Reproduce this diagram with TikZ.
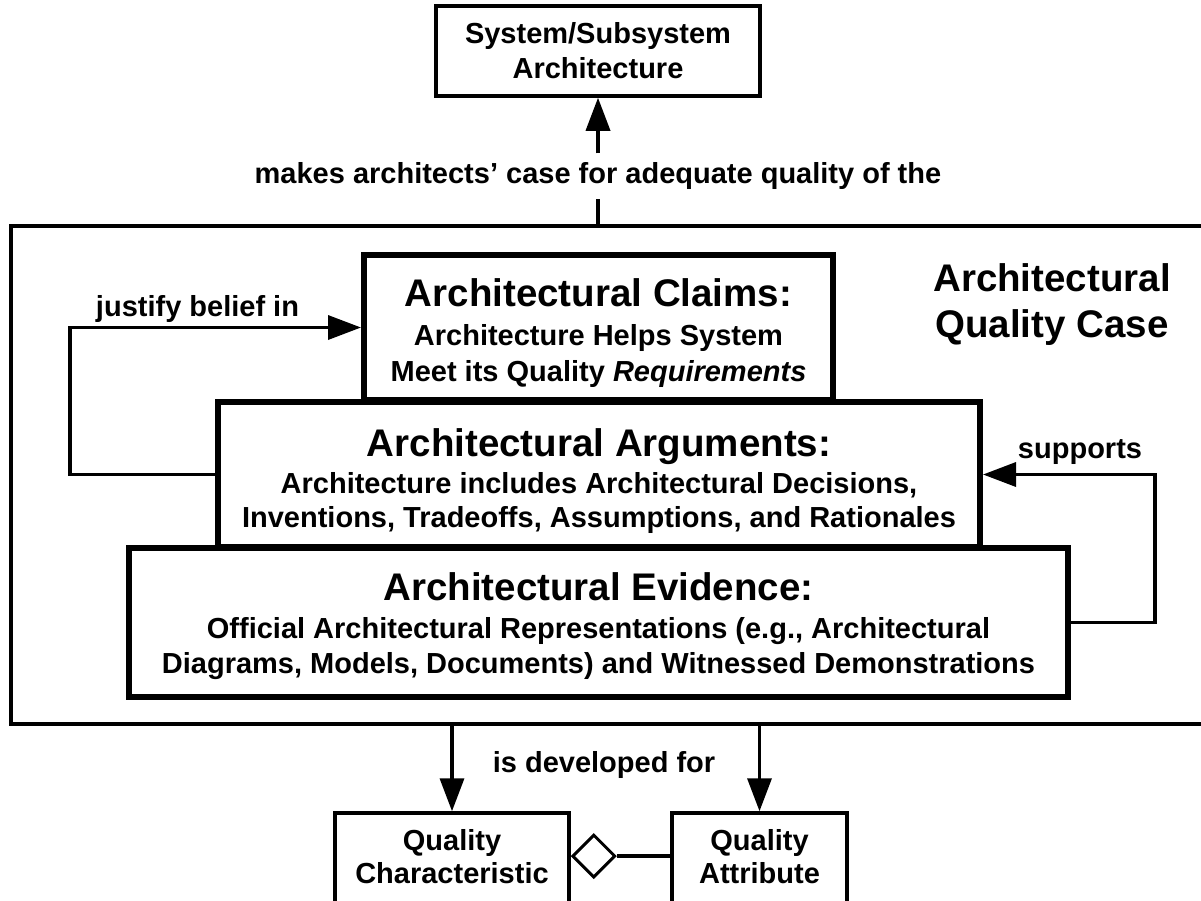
\documentclass[tikz,border=0pt]{standalone}
\usepackage{fontspec}
\setmainfont{Liberation Sans}
\usetikzlibrary{arrows.meta,shapes.geometric}

\begin{document}
\begin{tikzpicture}[x=1pt,y=-1pt,
  every node/.style={font=\bfseries},
  txt/.style={anchor=base,inner sep=0pt,font=\bfseries\fontsize{29}{35}\selectfont},
  ttl/.style={anchor=base,inner sep=0pt,font=\bfseries\fontsize{38.5}{44}\selectfont},
  plainbox/.style={draw,line width=3.5pt,inner sep=0pt},
  layerbox/.style={draw,line width=6pt,inner sep=0pt,fill=white},
  conn/.style={line width=3.5pt},
  arr/.style={conn,-{Triangle[length=33pt,width=24pt]}}
]
\useasboundingbox (0,0) rectangle (1201,900);
\clip (0,0) rectangle (1201,900);

% system / subsystem architecture
\node[plainbox,minimum width=324,minimum height=90] (sys) at (598,51) {};
\node[txt] (sysA) at (598,43) {System/Subsystem};
\node[txt] (sysB) at (598,78) {Architecture};

% the quality case container
\node[plainbox,line width=4pt,minimum width=1199,minimum height=498] (qcase) at (610.5,475) {};
\node[ttl] (qcA) at (1052,291) {Architectural};
\node[ttl] (qcB) at (1052,337) {Quality Case};

% label on the link to the architecture
\node[font=\bfseries\fontsize{29}{35}\selectfont,text height=21.75pt,text depth=6pt,inner sep=8.5pt] (mk) at (598,176) {makes architects’ case for adequate quality of the};
\draw[conn] (sys.south |- qcase.north) -- (mk.south);
\draw[arr] (mk.north) -- (sys.south);

% the three layers
\node[layerbox,minimum width=469,minimum height=145] (claims) at (598.5,327.5) {};
\node[layerbox,minimum width=762,minimum height=145] (args) at (599,474.5) {};
\node[layerbox,minimum width=939,minimum height=149] (evid) at (598.5,622.5) {};

\node[ttl] (clT) at (598.5,306) {Architectural Claims:};
\node[txt] (clA) at (598.5,345) {Architecture Helps System};
\node[txt] (clB) at (598.5,381) {Meet its Quality \textit{Requirements}};

\node[ttl] (arT) at (599,456) {Architectural Arguments:};
\node[txt] (arA) at (599,493) {Architecture includes Architectural Decisions,};
\node[txt] (arB) at (599,527) {Inventions, Tradeoffs, Assumptions, and Rationales};

\node[ttl] (evT) at (598.5,600) {Architectural Evidence:};
\node[txt] (evA) at (598.5,638) {Official Architectural Representations (e.g., Architectural};
\node[txt] (evB) at (598.5,673) {Diagrams, Models, Documents) and Witnessed Demonstrations};

% justify belief in
\coordinate (jl) at (70,0);
\draw[arr] (args.west) -- (args.west -| jl) |- (claims.west);
\node[txt] (just) at (197.5,316) {justify belief in};

% supports
\coordinate (sr) at (1155,0);
\draw[arr] (evid.east) -- (evid.east -| sr) |- (args.east);
\node[txt] (sup) at (1080,458) {supports};

% quality characteristic / attribute
\node[plainbox,minimum width=234,minimum height=92] (qc) at (452,859) {};
\node[plainbox,minimum width=175,minimum height=92] (qa) at (759.5,859) {};
\node[txt] (qcA1) at (452,850) {Quality};
\node[txt] (qcA2) at (452,883) {Characteristic};
\node[txt] (qaA1) at (759.5,850) {Quality};
\node[txt] (qaA2) at (759.5,883) {Attribute};

\draw[arr] (qc.north |- qcase.south) -- (qc.north);
\draw[arr] (qa.north |- qcase.south) -- (qa.north);
\node[txt] (dev) at (604,772) {is developed for};

% aggregation diamond
\node[diamond,draw,line width=3pt,minimum width=43,minimum height=43,inner sep=0pt,anchor=west,fill=white] (agg) at ([yshift=3pt]qc.east) {};
\draw[conn] (agg.east) -- (agg.east -| qa.west);
\end{tikzpicture}
\end{document}
